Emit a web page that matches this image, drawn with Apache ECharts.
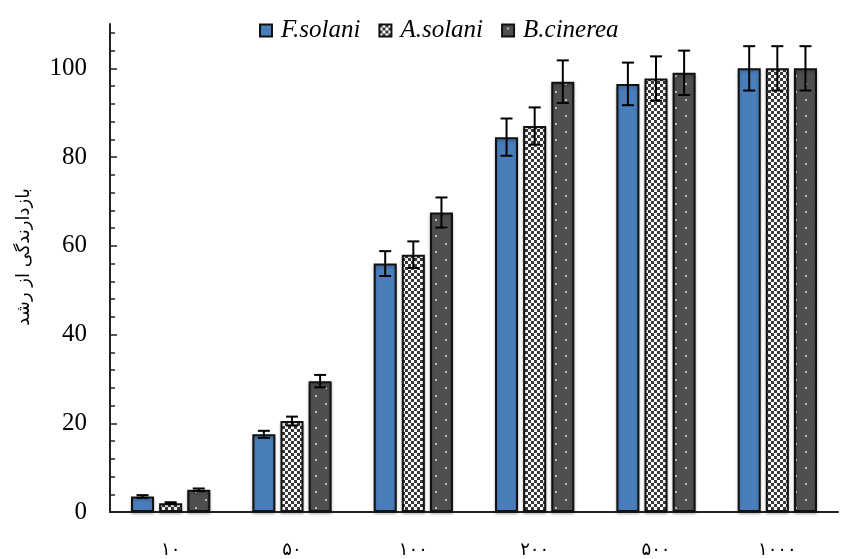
<!DOCTYPE html>
<html>
<head>
<meta charset="utf-8">
<script src="https://cdn.jsdelivr.net/npm/echarts@6/dist/echarts.min.js"></script>
<style>html,body{margin:0;padding:0;background:#fff}#c{width:843px;height:559px}</style>
</head>
<body>
<div id="c"></div>
<script>
const categories = ['۱۰', '۵۰', '۱۰۰', '۲۰۰', '۵۰۰', '۱۰۰۰'];
const seriesNames = ['F.solani', 'A.solani', 'B.cinerea'];
const yAxisTitle = 'بازدارندگی از رشد';
const fSolani = [3.5, 17.5, 56, 84.5, 96.5, 100];
const aSolani = [2, 20.5, 58, 87, 97.7, 100];
const bCinerea = [5, 29.5, 67.5, 97, 99, 100];
const fSolaniErr = [0.3, 0.8, 2.8, 4.2, 4.8, 5];
const aSolaniErr = [0.2, 1.0, 3.0, 4.2, 5.0, 5];
const bCinereaErr = [0.3, 1.4, 3.4, 4.8, 5.0, 5];
const majorTicks = [0, 20, 40, 60, 80, 100];
const minorTicks = [4, 8, 12, 16, 24, 28, 32, 36, 44, 48, 52, 56, 64, 68, 72, 76, 84, 88, 92, 96, 104, 108];

function checker() {
  const c = document.createElement('canvas'); c.width = 6; c.height = 6;
  const g = c.getContext('2d');
  g.fillStyle = '#ffffff'; g.fillRect(0, 0, 6, 6);
  g.fillStyle = '#3a3a3a'; g.fillRect(0, 0, 3, 3); g.fillRect(3, 3, 3, 3);
  return c;
}
function dots() {
  const c = document.createElement('canvas'); c.width = 20; c.height = 16;
  const g = c.getContext('2d');
  g.fillStyle = '#4f4f4f'; g.fillRect(0, 0, 20, 16);
  g.fillStyle = '#d8d8d8';
  g.beginPath(); g.arc(6, 4, 1.1, 0, Math.PI * 2); g.fill();
  g.beginPath(); g.arc(16, 12, 1.1, 0, Math.PI * 2); g.fill();
  return c;
}
const colors = ['#4a7ebb', { image: checker(), repeat: 'repeat' }, { image: dots(), repeat: 'repeat' }];
const values = [fSolani, aSolani, bCinerea];
const errs = [fSolaniErr, aSolaniErr, bCinereaErr];

const BAR_W = 0.19, BAR_GAP = 0.22;

const series = [];
values.forEach((vals, si) => {
  series.push({
    name: seriesNames[si], type: 'bar', data: vals,
    barWidth: (BAR_W * 100) + '%', barGap: (BAR_GAP * 100) + '%',
    itemStyle: { color: colors[si], borderColor: '#111', borderWidth: 2,
      shadowColor: 'rgba(0,0,0,0.25)', shadowBlur: 3, shadowOffsetY: 2 }
  });
});
values.forEach((vals, si) => {
  series.push({
    type: 'custom', name: 'err' + si, z: 10,
    data: vals.map((v, i) => [i, v, errs[si][i]]),
    renderItem: function (params, api) {
      const band = api.size([1, 0])[0];
      const w = band * BAR_W;
      const off = (si - 1) * w * (1 + BAR_GAP);
      const c = api.coord([api.value(0), api.value(1)]);
      const x = c[0] + off;
      const hi = api.coord([api.value(0), api.value(1) + api.value(2)])[1];
      const lo = api.coord([api.value(0), api.value(1) - api.value(2)])[1];
      const cap = 6;
      const st = { stroke: '#000', lineWidth: 2 };
      return { type: 'group', children: [
        { type: 'line', shape: { x1: x, y1: hi, x2: x, y2: lo }, style: st },
        { type: 'line', shape: { x1: x - cap, y1: hi, x2: x + cap, y2: hi }, style: st },
        { type: 'line', shape: { x1: x - cap, y1: lo, x2: x + cap, y2: lo }, style: st }
      ]};
    }
  });
});

const chart = echarts.init(document.getElementById('c'), null, { renderer: 'canvas' });
chart.setOption({
  animation: false,
  backgroundColor: '#fff',
  grid: { left: 110, right: 5, top: 24, bottom: 44, containLabel: false },
  legend: {
    data: seriesNames, top: 13, left: 254, itemWidth: 12, itemHeight: 12, itemGap: 18, icon: 'rect',
    textStyle: { fontFamily: 'Liberation Serif', fontStyle: 'italic', fontSize: 25, color: '#000', padding: [0, 0, 0, 4] }
  },
  graphic: [{
    type: 'text', x: 24, y: 257, rotation: Math.PI / 2,
    style: { text: yAxisTitle, fontFamily: 'DejaVu Sans', fontSize: 18, fill: '#000', align: 'center', verticalAlign: 'middle' }
  }],
  xAxis: {
    type: 'category', data: categories,
    axisLine: { lineStyle: { color: '#222', width: 2 } },
    axisTick: { show: false },
    axisLabel: { margin: 29, fontFamily: 'DejaVu Sans', fontSize: 18, color: '#000' }
  },
  yAxis: [{
    type: 'value', min: 0, max: 110, interval: 20,
    axisLine: { show: true, lineStyle: { color: '#222', width: 2 } },
    axisTick: { show: true, inside: true, length: 7, customValues: majorTicks, lineStyle: { color: '#222', width: 1.5 } },
    axisLabel: { customValues: majorTicks, margin: 23, fontFamily: 'Liberation Serif', fontSize: 25, color: '#000' },
    splitLine: { show: false }
  }, {
    type: 'value', min: 0, max: 110, position: 'left',
    axisLine: { show: false },
    axisTick: { show: true, inside: true, length: 5, customValues: minorTicks, lineStyle: { color: '#222', width: 1.5 } },
    axisLabel: { show: false },
    splitLine: { show: false }
  }],
  series: series
});
</script>
</body>
</html>
